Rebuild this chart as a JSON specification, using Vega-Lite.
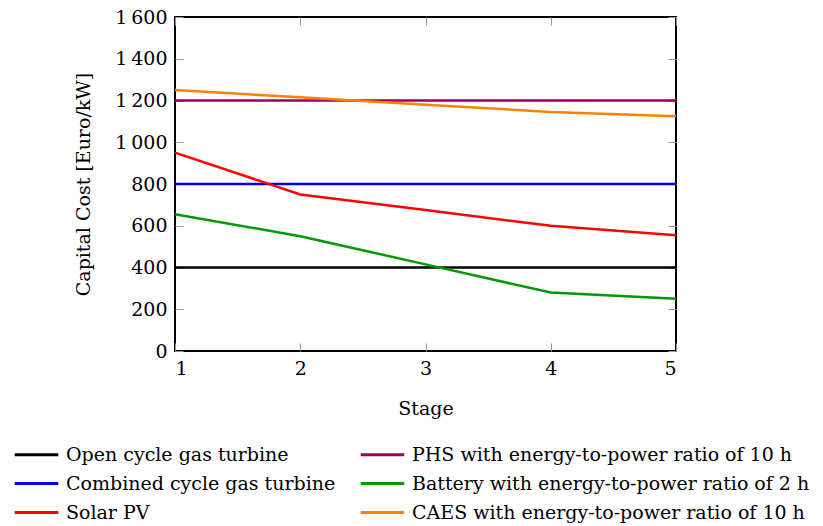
{
  "$schema": "https://vega.github.io/schema/vega-lite/v6.json",
  "width": 501,
  "height": 334,
  "autosize": {"type": "none"},
  "padding": {"left": 175, "top": 17, "right": 147, "bottom": 175},
  "background": "white",
  "config": {
    "font": "DejaVu Serif",
    "view": {"stroke": "black", "strokeWidth": 2},
    "axis": {
      "grid": false,
      "domain": false,
      "tickColor": "#999999",
      "tickWidth": 1,
      "tickSize": -8,
      "labelFont": "DejaVu Serif",
      "labelFontSize": 19,
      "labelColor": "black",
      "titleFont": "DejaVu Serif",
      "titleFontSize": 19,
      "titleFontWeight": "normal",
      "titleColor": "black"
    }
  },
  "data": {
    "values": [
      {"series": "Open cycle gas turbine", "stage": 1, "cost": 400},
      {"series": "Open cycle gas turbine", "stage": 2, "cost": 400},
      {"series": "Open cycle gas turbine", "stage": 3, "cost": 400},
      {"series": "Open cycle gas turbine", "stage": 4, "cost": 400},
      {"series": "Open cycle gas turbine", "stage": 5, "cost": 400},
      {"series": "Combined cycle gas turbine", "stage": 1, "cost": 800},
      {"series": "Combined cycle gas turbine", "stage": 2, "cost": 800},
      {"series": "Combined cycle gas turbine", "stage": 3, "cost": 800},
      {"series": "Combined cycle gas turbine", "stage": 4, "cost": 800},
      {"series": "Combined cycle gas turbine", "stage": 5, "cost": 800},
      {"series": "Solar PV", "stage": 1, "cost": 950},
      {"series": "Solar PV", "stage": 2, "cost": 750},
      {"series": "Solar PV", "stage": 3, "cost": 675},
      {"series": "Solar PV", "stage": 4, "cost": 600},
      {"series": "Solar PV", "stage": 5, "cost": 555},
      {"series": "PHS with energy-to-power ratio of 10 h", "stage": 1, "cost": 1200},
      {"series": "PHS with energy-to-power ratio of 10 h", "stage": 2, "cost": 1200},
      {"series": "PHS with energy-to-power ratio of 10 h", "stage": 3, "cost": 1200},
      {"series": "PHS with energy-to-power ratio of 10 h", "stage": 4, "cost": 1200},
      {"series": "PHS with energy-to-power ratio of 10 h", "stage": 5, "cost": 1200},
      {"series": "Battery with energy-to-power ratio of 2 h", "stage": 1, "cost": 655},
      {"series": "Battery with energy-to-power ratio of 2 h", "stage": 2, "cost": 550},
      {"series": "Battery with energy-to-power ratio of 2 h", "stage": 3, "cost": 415},
      {"series": "Battery with energy-to-power ratio of 2 h", "stage": 4, "cost": 280},
      {"series": "Battery with energy-to-power ratio of 2 h", "stage": 5, "cost": 250},
      {"series": "CAES with energy-to-power ratio of 10 h", "stage": 1, "cost": 1250},
      {"series": "CAES with energy-to-power ratio of 10 h", "stage": 2, "cost": 1215},
      {"series": "CAES with energy-to-power ratio of 10 h", "stage": 3, "cost": 1180},
      {"series": "CAES with energy-to-power ratio of 10 h", "stage": 4, "cost": 1145},
      {"series": "CAES with energy-to-power ratio of 10 h", "stage": 5, "cost": 1125}
    ]
  },
  "layer": [
    {
      "mark": {"type": "line", "strokeWidth": 2.5},
      "encoding": {
        "x": {
          "field": "stage",
          "type": "quantitative",
          "scale": {"domain": [1, 5], "nice": false, "zero": false},
          "axis": {"orient": "bottom", "values": [1, 2, 3, 4, 5], "format": "d", "title": "Stage", "labelPadding": 16, "titlePadding": 21}
        },
        "y": {
          "field": "cost",
          "type": "quantitative",
          "scale": {"domain": [0, 1600], "nice": false},
          "axis": {
            "orient": "left",
            "values": [0, 200, 400, 600, 800, 1000, 1200, 1400, 1600],
            "labelExpr": "replace(format(datum.value, ','), ',', '\u2009')",
            "title": "Capital Cost [Euro/kW]",
            "labelPadding": 16,
            "titlePadding": 21
          }
        },
        "color": {
          "field": "series",
          "type": "nominal",
          "scale": {
            "domain": [
              "Open cycle gas turbine",
              "Combined cycle gas turbine",
              "Solar PV",
              "PHS with energy-to-power ratio of 10 h",
              "Battery with energy-to-power ratio of 2 h",
              "CAES with energy-to-power ratio of 10 h"
            ],
            "range": ["#000000", "#0000ff", "#ff0000", "#99005f", "#009900", "#ff8000"]
          },
          "legend": {
            "orient": "none",
            "legendX": -155,
            "legendY": 421,
            "columns": 2,
            "direction": "vertical",
            "title": null,
            "padding": 0,
            "symbolType": "M-1.45,0H1.45",
            "symbolSize": 900,
            "symbolStrokeWidth": 3,
            "symbolFillColor": "transparent",
            "labelFont": "DejaVu Serif",
            "labelFontSize": 19,
            "labelColor": "black",
            "labelOffset": 13,
            "labelLimit": 500,
            "rowPadding": 2,
            "columnPadding": 18
          }
        }
      }
    },
    {
      "mark": {"type": "line", "opacity": 0},
      "encoding": {
        "x": {
          "field": "stage",
          "type": "quantitative",
          "axis": {"orient": "top", "values": [1, 2, 3, 4, 5], "labels": false, "title": null}
        },
        "y": {
          "field": "cost",
          "type": "quantitative",
          "axis": {"orient": "right", "values": [0, 200, 400, 600, 800, 1000, 1200, 1400, 1600], "labels": false, "title": null}
        },
        "detail": {"field": "series"}
      }
    }
  ],
  "resolve": {"axis": {"x": "independent", "y": "independent"}}
}
